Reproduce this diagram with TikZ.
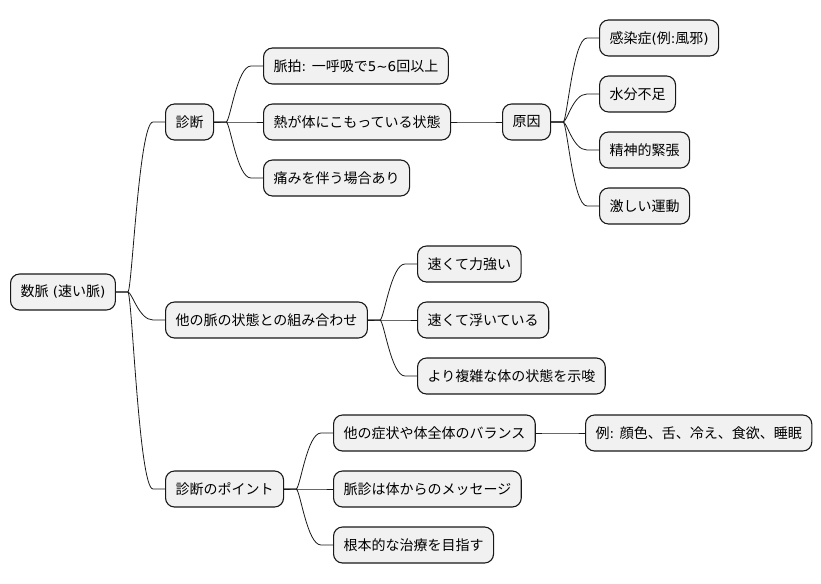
\documentclass[tikz,border=0pt]{standalone}
\usepackage{fontspec}
\newfontfamily\cjk{Noto Sans CJK JP}
\newfontfamily\latfont{DejaVu Sans}
\newcommand\lat[1]{{\latfont\fontsize{13.5}{16}\selectfont #1}}
\usetikzlibrary{calc}
\definecolor{boxfill}{HTML}{F1F1F1}
\definecolor{boxline}{HTML}{181818}
\tikzset{
  mind/.style={draw=boxline, fill=boxfill, rounded corners=9pt, line width=1.1pt,
    minimum height=36pt, inner xsep=10pt, inner ysep=0pt, anchor=west,
    font=\cjk\fontsize{14}{16}\selectfont},
  link/.style={draw=boxline, line width=0.8pt, to path={
    -- ++(12pt,0) coordinate (tmpA)
    .. controls ($(tmpA)+(4pt,0)$) and ($(\tikztotarget)+(-26pt,0)$) .. ($(\tikztotarget)+(-12pt,0)$)
    -- (\tikztotarget)}}
}
\begin{document}
\begin{tikzpicture}[x=1pt,y=-1pt]
\useasboundingbox (0,0) rectangle (821,583);
\node[mind] (root) at (10,292) {数脈\lat{ (}速い脈\lat{)}};
\node[mind] (d1) at (165,122) {診断};
\node[mind] (d1a) at (263,66) {脈拍\lat{: }一呼吸で\lat{5{\char"7E}6}回以上};
\node[mind] (d1b) at (263,122) {熱が体にこもっている状態};
\node[mind] (d1c) at (263,178) {痛みを伴う場合あり};
\node[mind] (cause) at (502,122) {原因};
\node[mind] (c1) at (599,38) {感染症\lat{(}例\lat{:}風邪\lat{)}};
\node[mind] (c2) at (599,94) {水分不足};
\node[mind] (c3) at (599,150) {精神的緊張};
\node[mind] (c4) at (599,206) {激しい運動};
\node[mind] (d2) at (165,320) {他の脈の状態との組み合わせ};
\node[mind] (d2a) at (417,264) {速くて力強い};
\node[mind] (d2b) at (417,320) {速くて浮いている};
\node[mind] (d2c) at (417,376) {より複雑な体の状態を示唆};
\node[mind] (d3) at (165,489) {診断のポイント};
\node[mind] (d3a) at (333,433) {他の症状や体全体のバランス};
\node[mind] (d3b) at (333,489) {脈診は体からのメッセージ};
\node[mind] (d3c) at (333,545) {根本的な治療を目指す};
\node[mind] (ex) at (585,433) {例\lat{: }顔色、舌、冷え、食欲、睡眠};
\draw[link] (root.east) to (d1.west);
\draw[link] (root.east) to (d2.west);
\draw[link] (root.east) to (d3.west);
\draw[link] (d1.east) to (d1a.west);
\draw[link] (d1.east) to (d1b.west);
\draw[link] (d1.east) to (d1c.west);
\draw[link] (d1b.east) to (cause.west);
\draw[link] (cause.east) to (c1.west);
\draw[link] (cause.east) to (c2.west);
\draw[link] (cause.east) to (c3.west);
\draw[link] (cause.east) to (c4.west);
\draw[link] (d2.east) to (d2a.west);
\draw[link] (d2.east) to (d2b.west);
\draw[link] (d2.east) to (d2c.west);
\draw[link] (d3.east) to (d3a.west);
\draw[link] (d3.east) to (d3b.west);
\draw[link] (d3.east) to (d3c.west);
\draw[link] (d3a.east) to (ex.west);
\end{tikzpicture}
\end{document}
